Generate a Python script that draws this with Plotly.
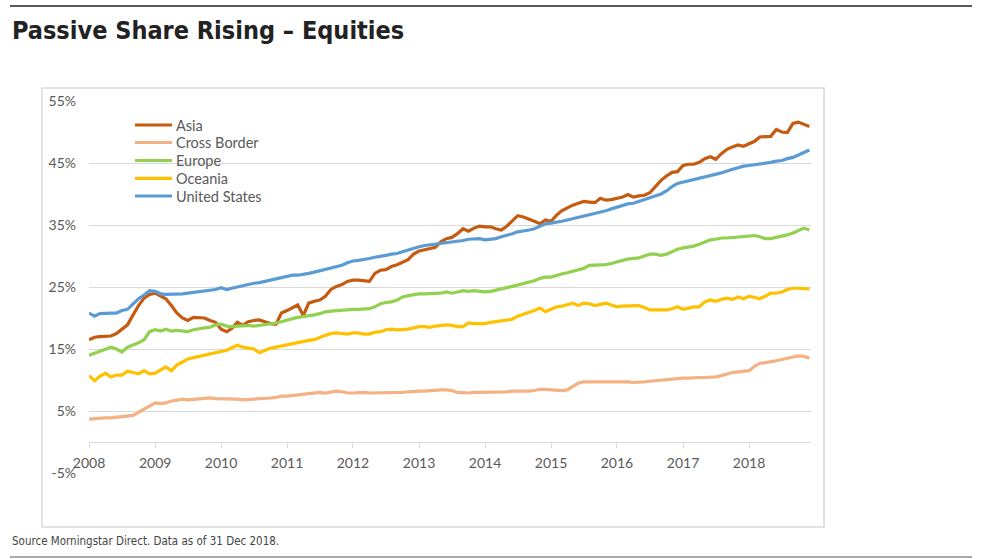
import pandas as pd
import plotly.graph_objects as go

months = pd.date_range("2008-01-01", "2018-12-01", freq="MS")

asia = [16.5, 16.9, 17.0, 17.0, 17.1, 17.5, 18.2, 18.9, 20.5, 22.0, 23.2, 23.8,
        24.0, 23.6, 23.1, 22.0, 20.8, 20.0, 19.6, 20.1, 20.1, 20.0, 19.6, 19.3,
        18.2, 17.8, 18.3, 19.3, 18.8, 19.4, 19.6, 19.7, 19.4, 19.1, 19.0, 20.8,
        21.2, 21.6, 22.1, 20.4, 22.4, 22.7, 22.9, 23.5, 24.6, 25.1, 25.4, 25.9,
        26.1, 26.1, 26.0, 25.9, 27.2, 27.7, 27.8, 28.3, 28.6, 29.0, 29.4, 30.3,
        30.8, 31.0, 31.2, 31.4, 32.3, 32.8, 33.0, 33.6, 34.4, 34.0, 34.5, 34.8,
        34.7, 34.7, 34.4, 34.2, 34.8, 35.6, 36.5, 36.3, 36.0, 35.6, 35.2, 35.8,
        35.6, 36.6, 37.3, 37.8, 38.2, 38.5, 38.8, 38.7, 38.6, 39.3, 39.0, 39.1,
        39.3, 39.5, 39.9, 39.5, 39.7, 39.8, 40.2, 41.3, 42.2, 42.9, 43.5, 43.6,
        44.6, 44.8, 44.8, 45.1, 45.7, 46.0, 45.6, 46.5, 47.2, 47.6, 47.9, 47.7,
        48.1, 48.5, 49.2, 49.3, 49.3, 50.4, 50.0, 49.9, 51.4, 51.6, 51.3, 50.9]

cross_border = [3.7, 3.8, 3.8, 3.9, 3.9, 4.0, 4.0, 4.2, 4.3, 4.8, 5.3, 5.7,
                6.3, 6.2, 6.3, 6.6, 6.8, 6.9, 6.8, 6.9, 6.9, 7.0, 7.1, 7.0,
                7.0, 7.0, 7.0, 6.9, 6.8, 6.8, 6.9, 7.0, 7.0, 7.1, 7.2, 7.4,
                7.4, 7.5, 7.7, 7.8, 7.8, 7.9, 8.0, 7.9, 8.1, 8.2, 8.1, 7.9,
                7.9, 8.0, 8.0, 7.9, 7.9, 7.9, 8.0, 8.0, 8.0, 8.0, 8.1, 8.2,
                8.2, 8.2, 8.3, 8.4, 8.4, 8.4, 8.3, 8.0, 7.9, 7.9, 8.0, 8.0,
                8.0, 8.0, 8.0, 8.0, 8.1, 8.2, 8.2, 8.1, 8.2, 8.3, 8.5, 8.5,
                8.4, 8.3, 8.3, 8.4, 8.9, 9.5, 9.7, 9.7, 9.8, 9.8, 9.7, 9.7,
                9.7, 9.7, 9.7, 9.6, 9.6, 9.7, 9.8, 9.9, 9.9, 10.0, 10.1, 10.2,
                10.3, 10.3, 10.4, 10.4, 10.4, 10.4, 10.5, 10.7, 11.0, 11.2, 11.3, 11.4,
                11.5, 12.2, 12.7, 12.8, 12.9, 13.1, 13.3, 13.5, 13.7, 13.9, 13.8, 13.5]

europe = [14.0, 14.3, 14.6, 15.0, 15.3, 15.0, 14.5, 15.3, 15.6, 16.0, 16.5, 17.8,
          18.1, 17.9, 18.2, 17.9, 18.0, 17.9, 17.8, 18.1, 18.3, 18.4, 18.5, 18.9,
          19.0, 18.7, 18.6, 18.7, 18.8, 18.8, 18.7, 18.8, 18.9, 19.0, 19.2, 19.4,
          19.7, 19.9, 20.1, 20.2, 20.4, 20.5, 20.7, 21.0, 21.1, 21.2, 21.3, 21.4,
          21.4, 21.4, 21.4, 21.5, 21.8, 22.3, 22.5, 22.6, 22.9, 23.4, 23.6, 23.8,
          23.9, 23.9, 23.9, 23.9, 24.0, 24.2, 24.0, 24.2, 24.4, 24.3, 24.4, 24.3,
          24.2, 24.3, 24.5, 24.8, 24.9, 25.1, 25.3, 25.5, 25.7, 26.0, 26.4, 26.6,
          26.6, 26.9, 27.1, 27.3, 27.5, 27.7, 28.0, 28.5, 28.5, 28.5, 28.6, 28.8,
          29.1, 29.3, 29.5, 29.6, 29.7, 30.0, 30.3, 30.3, 30.1, 30.3, 30.7, 31.1,
          31.3, 31.4, 31.6, 31.9, 32.3, 32.6, 32.7, 32.9, 32.9, 33.0, 33.1, 33.2,
          33.2, 33.3, 33.1, 32.8, 32.8, 33.0, 33.1, 33.4, 33.7, 34.1, 34.5, 34.2]

oceania = [10.7, 9.9, 10.6, 11.1, 10.5, 10.8, 10.8, 11.4, 11.2, 11.0, 11.5, 11.0,
           11.1, 11.7, 12.1, 11.5, 12.4, 12.9, 13.4, 13.6, 13.8, 14.0, 14.2, 14.5,
           14.6, 14.8, 15.2, 15.6, 15.3, 15.2, 15.0, 14.4, 14.8, 15.1, 15.3, 15.5,
           15.7, 15.9, 16.1, 16.2, 16.4, 16.5, 16.9, 17.2, 17.5, 17.6, 17.5, 17.4,
           17.6, 17.6, 17.4, 17.4, 17.7, 17.8, 18.1, 18.2, 18.1, 18.1, 18.2, 18.4,
           18.6, 18.6, 18.5, 18.7, 18.8, 18.9, 18.8, 18.6, 18.6, 19.2, 19.1, 19.1,
           19.1, 19.3, 19.4, 19.6, 19.7, 19.8, 20.3, 20.6, 20.8, 21.2, 21.6, 21.0,
           21.4, 21.8, 21.9, 22.2, 22.4, 22.0, 22.4, 22.3, 22.0, 22.2, 22.4, 22.1,
           21.8, 21.9, 21.9, 22.0, 22.0, 21.7, 21.3, 21.3, 21.3, 21.3, 21.5, 21.8,
           21.4, 21.6, 21.8, 21.8, 22.6, 22.9, 22.7, 23.0, 23.2, 23.0, 23.4, 23.1,
           23.5, 23.3, 23.1, 23.5, 24.0, 24.0, 24.2, 24.6, 24.8, 24.8, 24.8, 24.7]

united_states = [20.8, 20.3, 20.7, 20.8, 20.8, 20.8, 21.2, 21.4, 22.3, 23.1, 23.7, 24.4,
                 24.3, 23.9, 23.8, 23.8, 23.9, 23.9, 24.0, 24.1, 24.3, 24.3, 24.5, 24.6,
                 24.9, 24.6, 24.8, 25.0, 25.3, 25.4, 25.6, 25.7, 25.9, 26.1, 26.3, 26.5,
                 26.8, 26.9, 26.9, 27.0, 27.2, 27.4, 27.6, 27.8, 28.0, 28.3, 28.5, 28.9,
                 29.2, 29.3, 29.4, 29.6, 29.8, 29.9, 30.1, 30.3, 30.4, 30.7, 31.0, 31.3,
                 31.5, 31.7, 31.8, 31.9, 32.1, 32.1, 32.3, 32.4, 32.5, 32.7, 32.7, 32.8,
                 32.6, 32.7, 32.8, 33.1, 33.3, 33.6, 33.9, 34.0, 34.2, 34.4, 34.8, 35.2,
                 35.3, 35.4, 35.6, 35.8, 36.0, 36.2, 36.4, 36.6, 36.8, 37.1, 37.3, 37.6,
                 37.9, 38.1, 38.4, 38.5, 38.8, 39.2, 39.5, 39.8, 40.0, 40.5, 41.2, 41.7,
                 41.9, 42.2, 42.4, 42.6, 42.8, 43.0, 43.2, 43.4, 43.7, 44.0, 44.3, 44.5,
                 44.6, 44.7, 44.8, 44.9, 45.1, 45.3, 45.4, 45.7, 45.9, 46.3, 46.7, 47.1]

series_names = ["Asia", "Cross Border", "Europe", "Oceania", "United States"]
series_values = [asia, cross_border, europe, oceania, united_states]
series_colors = ["#C55A11", "#F4B183", "#92D050", "#FFC000", "#5B9BD5"]

y_ticks = [-5, 5, 15, 25, 35, 45, 55]
y_labels = ["-5%", "5%", "15%", "25%", "35%", "45%", "55%"]

W, H = 996, 559
L, R, T, B = 89, 811, 101, 473  # plot area in pixels


def px(x):
    return (x - L) / (R - L)


def py(y):
    return (B - y) / (B - T)


fig = go.Figure()
for name, vals, col in zip(series_names, series_values, series_colors):
    fig.add_trace(go.Scatter(x=months, y=vals, name=name, mode="lines",
                             line=dict(color=col, width=3.2), showlegend=False))

axis_font = dict(family="Lato, sans-serif", size=14, color="#595959")

shapes = [
    dict(type="rect", xref="paper", yref="paper",
         x0=px(42), x1=px(824), y0=py(527), y1=py(88),
         line=dict(color="#D9D9D9", width=1.5), fillcolor="rgba(0,0,0,0)", layer="below"),
    dict(type="line", xref="paper", yref="paper",
         x0=px(10), x1=px(972), y0=py(6), y1=py(6),
         line=dict(color="#222222", width=1.5)),
    dict(type="line", xref="paper", yref="paper",
         x0=px(10), x1=px(972), y0=py(557), y1=py(557),
         line=dict(color="#555555", width=1)),
]
annotations = [
    dict(text="<b>Passive Share Rising – Equities</b>", xref="paper", yref="paper",
         x=px(10), y=py(31), xanchor="left", yanchor="middle", showarrow=False,
         font=dict(family="DejaVu Sans Condensed, sans-serif", size=25, color="#222222")),
    dict(text="Source Morningstar Direct. Data as of 31 Dec 2018.", xref="paper", yref="paper",
         x=px(10), y=py(541), xanchor="left", yanchor="middle", showarrow=False,
         font=dict(family="DejaVu Sans Condensed, sans-serif", size=11.5, color="#444444")),
]

# legend (manual, to match the compact row spacing of the original)
legend_rows = [125, 142.5, 160.5, 178.3, 196]
for name, col, ry in zip(series_names, series_colors, legend_rows):
    shapes.append(dict(type="line", xref="paper", yref="paper",
                       x0=px(135), x1=px(172), y0=py(ry), y1=py(ry),
                       line=dict(color=col, width=3.2)))
    annotations.append(dict(text=name, xref="paper", yref="paper",
                            x=px(174), y=py(ry), xanchor="left", yanchor="middle",
                            showarrow=False,
                            font=dict(family="Lato, sans-serif", size=14.5, color="#595959")))

fig.update_layout(
    width=W, height=H,
    margin=dict(l=L, r=W - R, t=T, b=H - B),
    paper_bgcolor="white", plot_bgcolor="white",
    showlegend=False,
    xaxis=dict(type="date", range=["2008-01-01", "2018-12-10"],
               tick0="2008-01-01", dtick="M12", tickformat="%Y",
               showgrid=False, zeroline=False,
               anchor="free", position=5 / 60,
               showline=True, linecolor="#D9D9D9", linewidth=1,
               ticks="outside", ticklen=5, tickcolor="#D9D9D9",
               ticklabelstandoff=3, tickfont=axis_font),
    yaxis=dict(range=[-5, 55], tickmode="array", tickvals=y_ticks, ticktext=y_labels,
               showgrid=True, gridcolor="#D9D9D9", gridwidth=1,
               zeroline=False, showline=False, ticks="",
               ticklabelstandoff=12, tickfont=axis_font),
    shapes=shapes,
    annotations=annotations,
)

fig.write_html("out.html", config={"displayModeBar": False},
               post_script="document.body.style.margin='0';")
